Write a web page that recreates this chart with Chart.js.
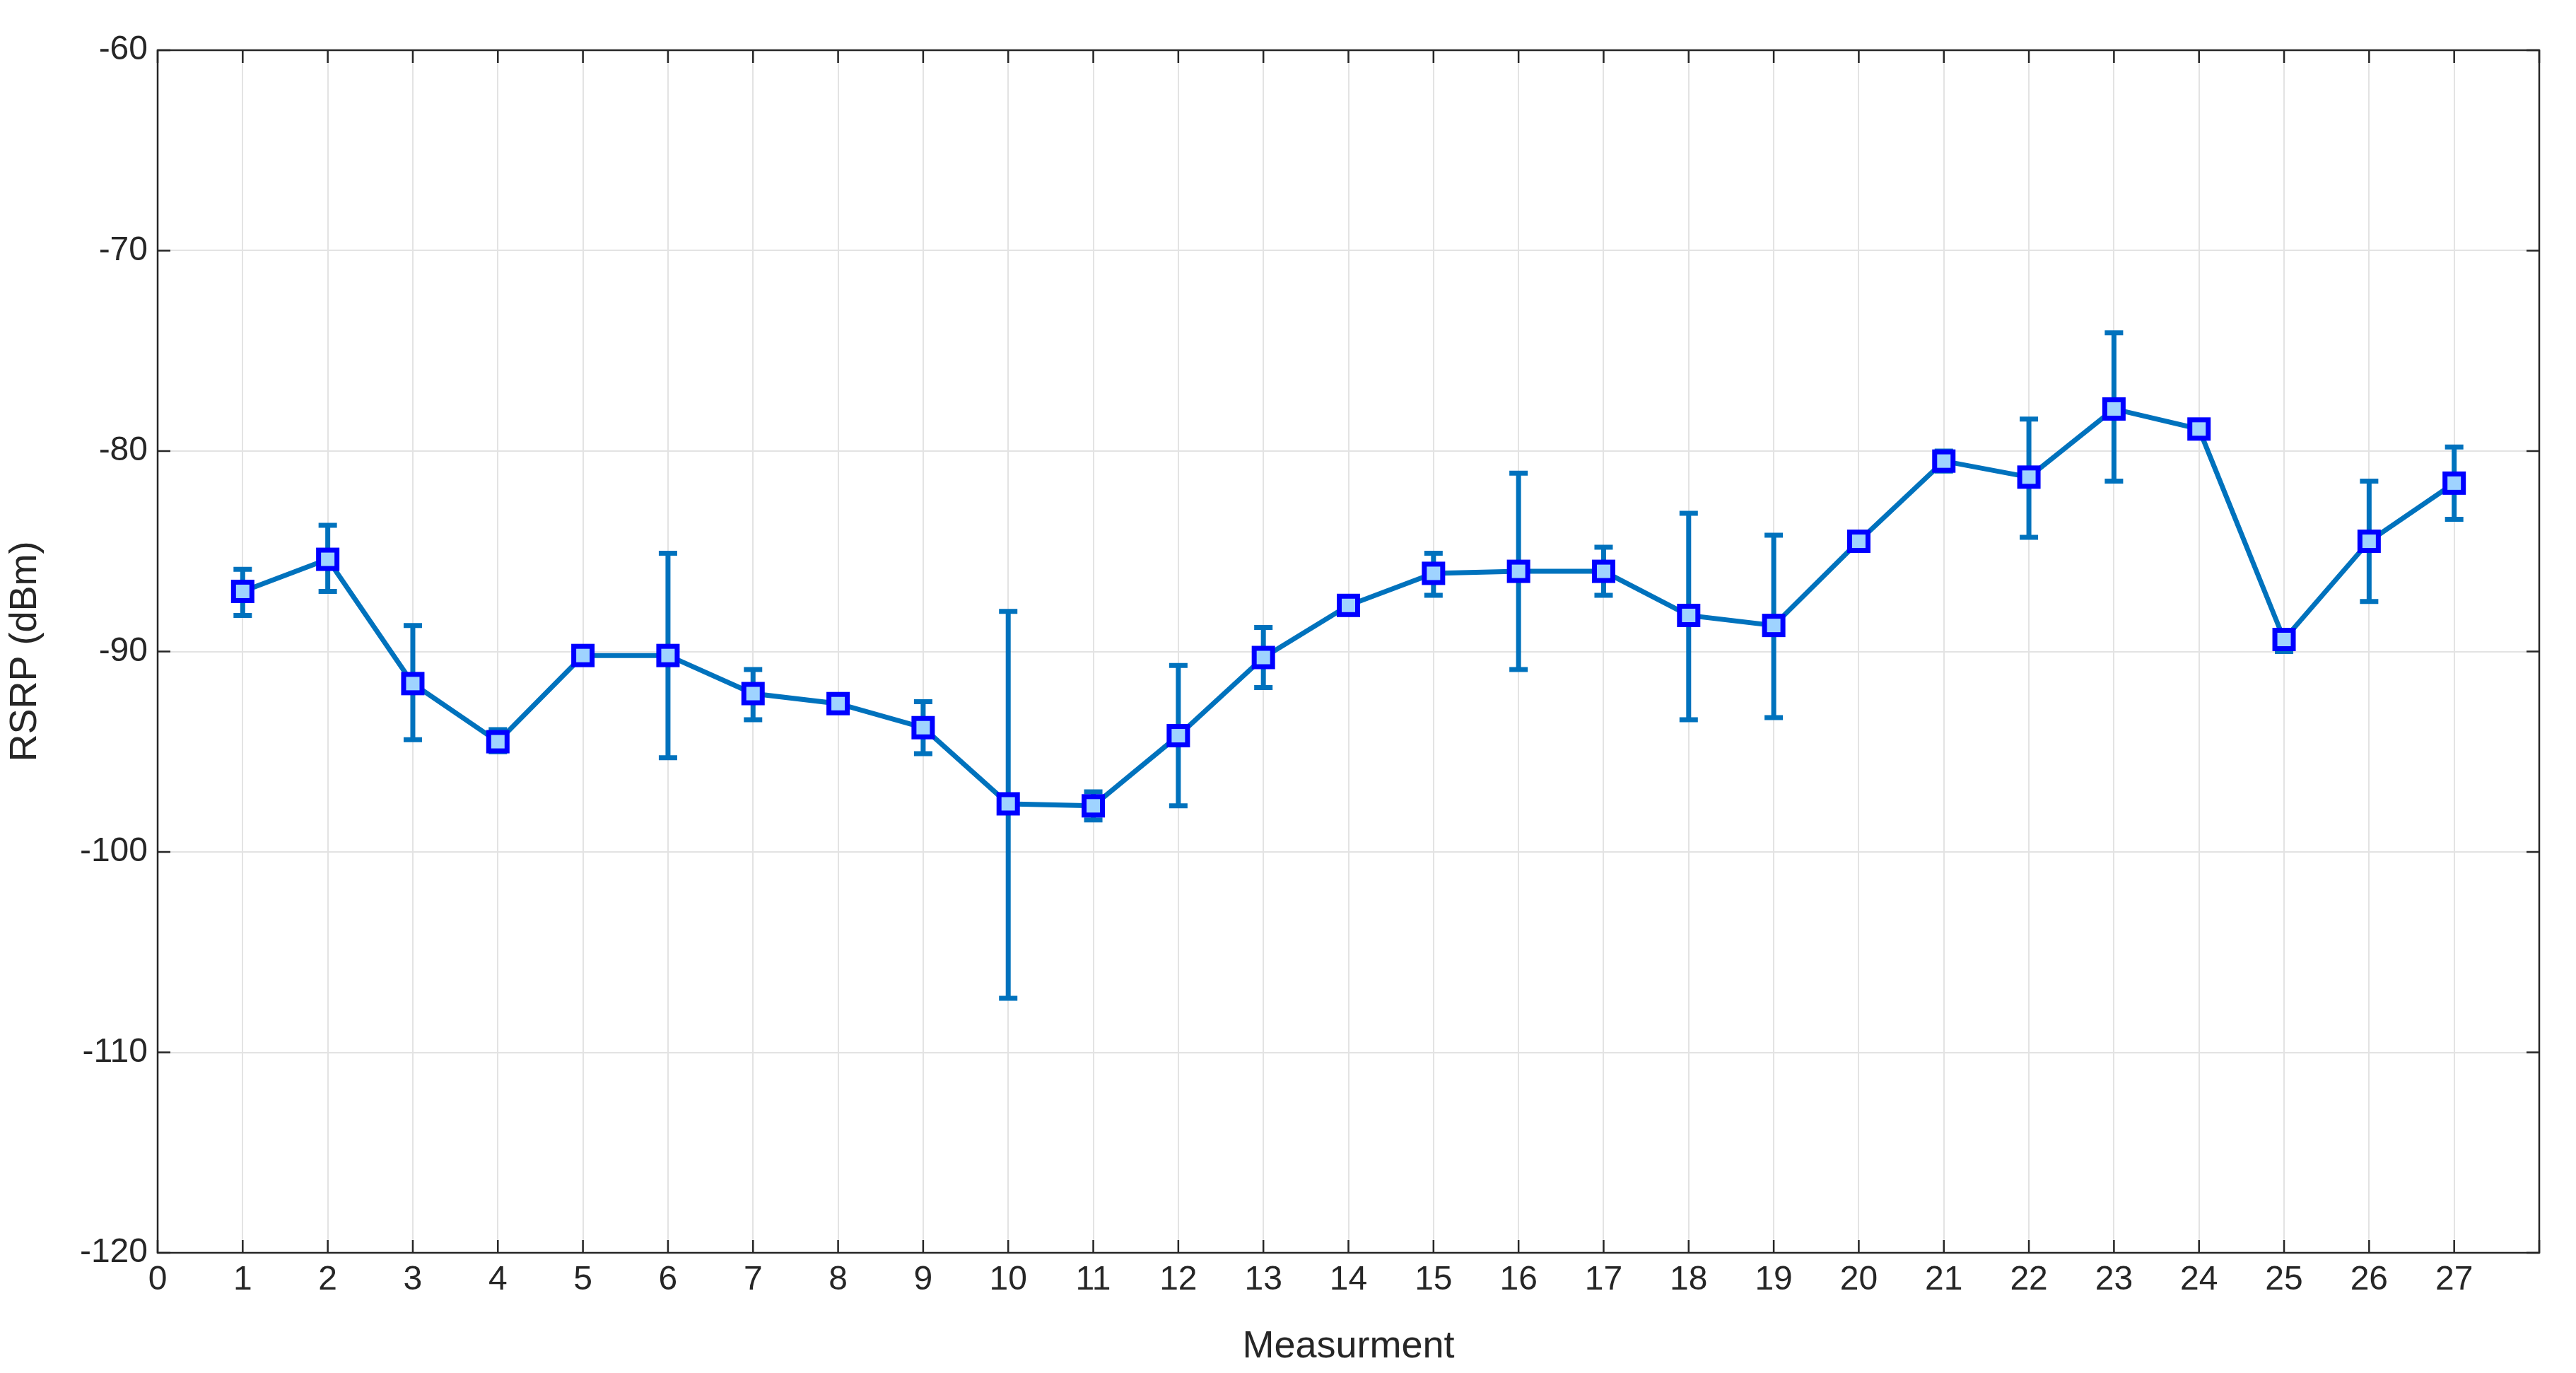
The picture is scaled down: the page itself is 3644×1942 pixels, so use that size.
<!DOCTYPE html>
<html><head><meta charset="utf-8">
<script src="https://cdn.jsdelivr.net/npm/chart.js@4"></script>
<style>html,body{margin:0;padding:0;background:#fff}#w{width:3644px;height:1942px}</style>
</head><body><div id="w"><canvas id="c"></canvas></div>
<script>
const measurements=[1,2,3,4,5,6,7,8,9,10,11,12,13,14,15,16,17,18,19,20,21,22,23,24,25,26,27];
const rsrpMean=[-87,-85.4,-91.6,-94.5,-90.2,-90.2,-92.1,-92.6,-93.8,-97.6,-97.7,-94.2,-90.3,-87.7,-86.1,-86,-86,-88.2,-88.7,-84.5,-80.5,-81.3,-77.9,-78.9,-89.4,-84.5,-81.6];
const rsrpLow=[-88.2,-87,-94.4,-95,-90.4,-95.3,-93.4,-92.8,-95.1,-107.3,-98.4,-97.7,-91.8,-87.9,-87.2,-90.9,-87.2,-93.4,-93.3,-84.7,-81,-84.3,-81.5,-79.1,-90,-87.5,-83.4];
const rsrpHigh=[-85.9,-83.7,-88.7,-93.9,-90,-85.1,-90.9,-92.4,-92.5,-88,-97,-90.7,-88.8,-87.5,-85.1,-81.1,-84.8,-83.1,-84.2,-84.3,-80,-78.4,-74.1,-78.7,-89.1,-81.5,-79.8];
const C='#0072BD';
const errPlugin={id:'err',afterDatasetsDraw(ch){const {ctx,scales:{x,y}}=ch;ctx.save();ctx.strokeStyle=C;ctx.lineWidth=7;
measurements.forEach((m,i)=>{const px=x.getPixelForValue(m);const a=y.getPixelForValue(rsrpLow[i]),b=y.getPixelForValue(rsrpHigh[i]);
ctx.beginPath();ctx.moveTo(px,a);ctx.lineTo(px,b);ctx.moveTo(px-13,a);ctx.lineTo(px+13,a);ctx.moveTo(px-13,b);ctx.lineTo(px+13,b);ctx.stroke();});
ctx.restore();
const meta=ch.getDatasetMeta(0);ctx.save();meta.data.forEach(p=>{ctx.fillStyle='#9fd3ff';ctx.strokeStyle='#0000ff';ctx.lineWidth=7;ctx.fillRect(p.x-13,p.y-13,26,26);ctx.strokeRect(p.x-13,p.y-13,26,26);});ctx.restore();}};
const boxPlugin={id:'box',afterDraw(ch){const {ctx,chartArea:a,scales:{x,y}}=ch;ctx.save();ctx.strokeStyle='#262626';ctx.lineWidth=2.5;ctx.strokeRect(a.left,a.top,a.right-a.left,a.bottom-a.top);
ctx.beginPath();for(let v=0;v<=28;v++){const px=x.getPixelForValue(v);ctx.moveTo(px,a.bottom);ctx.lineTo(px,a.bottom-18);ctx.moveTo(px,a.top);ctx.lineTo(px,a.top+18);}
for(let v=-120;v<=-60;v+=10){const py=y.getPixelForValue(v);ctx.moveTo(a.left,py);ctx.lineTo(a.left+18,py);ctx.moveTo(a.right,py);ctx.lineTo(a.right-18,py);}ctx.stroke();ctx.restore();}};
new Chart(document.getElementById('c'),{type:'line',
data:{datasets:[{data:measurements.map((m,i)=>({x:m,y:rsrpMean[i]})),borderColor:C,borderWidth:7,pointRadius:0,tension:0}]},
options:{responsive:true,maintainAspectRatio:false,animation:false,
layout:{padding:{top:71,right:52,left:0,bottom:0}},
plugins:{legend:{display:false},tooltip:{enabled:false}},
scales:{
x:{type:'linear',min:0,max:28,afterFit(s){s.height=170;},
ticks:{stepSize:1,color:'#262626',font:{family:'Liberation Sans',size:48},padding:10,maxRotation:0,autoSkip:false,callback:v=>v===28?'':v},
grid:{color:'#e3e3e3',lineWidth:2,tickLength:0},border:{display:false},
title:{display:true,text:'Measurment',color:'#262626',font:{family:'Liberation Sans',size:54},padding:{top:4}}},
y:{min:-120,max:-60,afterFit(s){s.width=223;},
ticks:{stepSize:10,color:'#262626',font:{family:'Liberation Sans',size:48},padding:14},
grid:{color:'#e3e3e3',lineWidth:2,tickLength:0},border:{display:false},
title:{display:true,text:'RSRP (dBm)',color:'#262626',font:{family:'Liberation Sans',size:54},padding:{bottom:8}}}}},
plugins:[errPlugin,boxPlugin]});
</script></body></html>
